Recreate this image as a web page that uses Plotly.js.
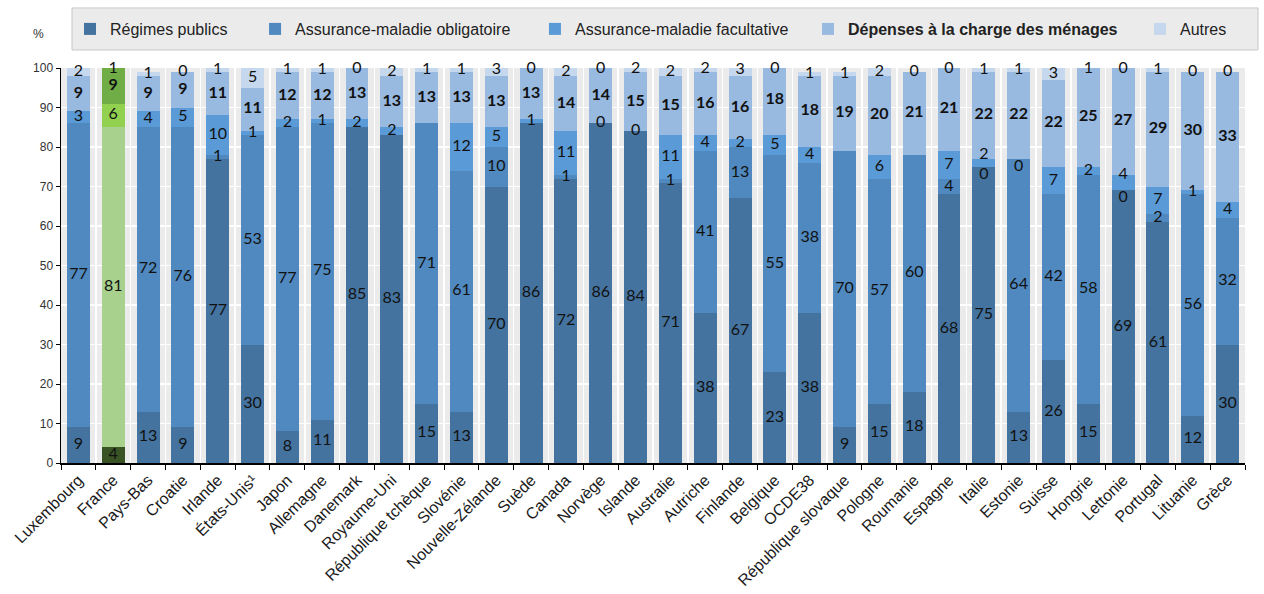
<!DOCTYPE html>
<html>
<head>
<meta charset="utf-8">
<script src="https://cdn.plot.ly/plotly-3.0.1.min.js"></script>
<style>html,body{margin:0;padding:0;background:#fff;}#chart{width:1264px;height:594px;}</style>
</head>
<body>
<div id="chart"></div>
<script>
const countries = ['Luxembourg','France','Pays-Bas','Croatie','Irlande','États-Unis¹','Japon','Allemagne','Danemark','Royaume-Uni','République tchèque','Slovénie','Nouvelle-Zélande','Suède','Canada','Norvège','Islande','Australie','Autriche','Finlande','Belgique','OCDE38','République slovaque','Pologne','Roumanie','Espagne','Italie','Estonie','Suisse','Hongrie','Lettonie','Portugal','Lituanie','Grèce'];

const regimesPublics = [9,4,13,9,77,30,8,11,85,83,15,13,70,86,72,86,84,71,38,67,23,38,9,15,18,68,75,13,26,15,69,61,12,30];
const assuranceObligatoire = [77,81,72,76,1,53,77,75,null,null,71,61,10,null,1,0,0,1,41,13,55,38,70,57,60,4,0,64,42,58,0,2,56,32];
const assuranceFacultative = [3,6,4,5,10,1,2,1,2,2,null,12,5,1,11,null,null,11,4,2,5,4,null,6,null,7,2,0,7,2,4,7,1,4];
const depensesMenages = [9,9,9,9,11,11,12,12,13,13,13,13,13,13,14,14,15,15,16,16,18,18,19,20,21,21,22,22,22,25,27,29,30,33];
const autres = [2,1,1,0,1,5,1,1,0,2,1,1,3,0,2,0,2,2,2,3,0,1,1,2,0,0,1,1,3,1,0,1,0,0];

const seriesNames = ['Régimes publics','Assurance-maladie obligatoire','Assurance-maladie facultative','<b>Dépenses à la charge des ménages</b>','Autres'];
const seriesValues = [regimesPublics, assuranceObligatoire, assuranceFacultative, depensesMenages, autres];
const blueColors = ['#44739f','#4f89bf','#5a9ad6','#98b9e0','#c6d8ee'];
const greenColors = ['#3a5324','#a9d18e','#92d050','#70ad47','#c5e0b4'];
const highlight = 'France';
const legendX = [0.0076, 0.1639, 0.4003, 0.6309, 0.9113];

const traces = [];
const cumul = countries.map(() => 0);
const labelTraces = [];
seriesValues.forEach((vals, s) => {
  const colors = countries.map(c => c === highlight ? greenColors[s] : blueColors[s]);
  const lname = s === 0 ? 'legend' : 'legend' + (s + 1);
  traces.push({
    type: 'bar', name: seriesNames[s], x: countries, y: vals,
    marker: {color: colors, line: {width: 0}},
    legend: lname, hoverinfo: 'x+y+name'
  });
  const mids = vals.map((v, i) => {
    const base = cumul[i];
    const val = v == null ? 0 : v;
    cumul[i] += val;
    return v == null ? null : Math.min(base + val / 2, 99.8);
  });
  // a zero label directly under a non-zero neighbour goes just below its point,
  // and that neighbour's label just above its own point, so the two do not collide
  const positions = vals.map((v, i) => {
    const next = seriesValues[s + 1];
    const prev = seriesValues[s - 1];
    if (v === 0 && s < 3 && next && next[i] > 0) return 'bottom center';
    if (v > 0 && v <= 4 && prev && prev[i] === 0 && s > 0 && s < 3) return 'top center';
    return 'middle center';
  });
  labelTraces.push({
    type: 'scatter', mode: 'text', x: countries, y: mids,
    text: vals.map(v => v == null ? '' : String(v)),
    textposition: positions,
    textfont: {family: 'Lato, Liberation Sans, sans-serif', size: 16, color: '#111', weight: s === 3 ? 'bold' : 'normal'},
    cliponaxis: false, showlegend: false, hoverinfo: 'skip'
  });
});

const layout = {
  width: 1264, height: 594,
  margin: {l: 61, r: 19, t: 68, b: 131},
  paper_bgcolor: '#ffffff', plot_bgcolor: '#ebebeb',
  barmode: 'stack', bargap: 0.34,
  font: {family: 'Liberation Sans, Arial, sans-serif', color: '#222'},
  xaxis: {
    type: 'category', range: [-0.5, countries.length - 0.5], autorange: false,
    tickson: 'boundaries', ticks: 'outside', ticklen: 5, tickcolor: '#000',
    showline: true, linecolor: '#000', linewidth: 1.5,
    showgrid: true, gridcolor: '#ffffff', gridwidth: 1.5,
    tickangle: -45, tickfont: {size: 16, color: '#1a1a1a'}, automargin: false
  },
  yaxis: {
    range: [0, 100], autorange: false, dtick: 10, ticks: 'outside', ticklen: 4, tickcolor: '#000',
    showline: true, linecolor: '#000', linewidth: 1.5,
    showgrid: true, gridcolor: '#ffffff', gridwidth: 1.5, zeroline: false,
    tickfont: {size: 12, color: '#333'}, automargin: false
  },
  shapes: [{
    type: 'rect', xref: 'paper', yref: 'paper', x0: 0.0093, x1: 1.011, y0: 1.0456, y1: 1.152,
    fillcolor: '#ebebeb', line: {color: '#c8c8c8', width: 1}, layer: 'below'
  }],
  annotations: [{
    text: '%', xref: 'paper', yref: 'paper', x: -0.019, y: 1.087, xanchor: 'center', yanchor: 'middle',
    showarrow: false, font: {size: 12, color: '#333'}
  }]
};
legendX.forEach((lx, s) => {
  const key = s === 0 ? 'legend' : 'legend' + (s + 1);
  layout[key] = {
    x: lx, y: 1.0987, xanchor: 'left', yanchor: 'middle', orientation: 'h',
    bgcolor: 'rgba(0,0,0,0)', borderwidth: 0, itemwidth: 30,
    font: {size: 16, color: '#222'}
  };
});

Plotly.newPlot('chart', traces.concat(labelTraces), layout, {displayModeBar: false, staticPlot: true});
</script>
</body>
</html>
